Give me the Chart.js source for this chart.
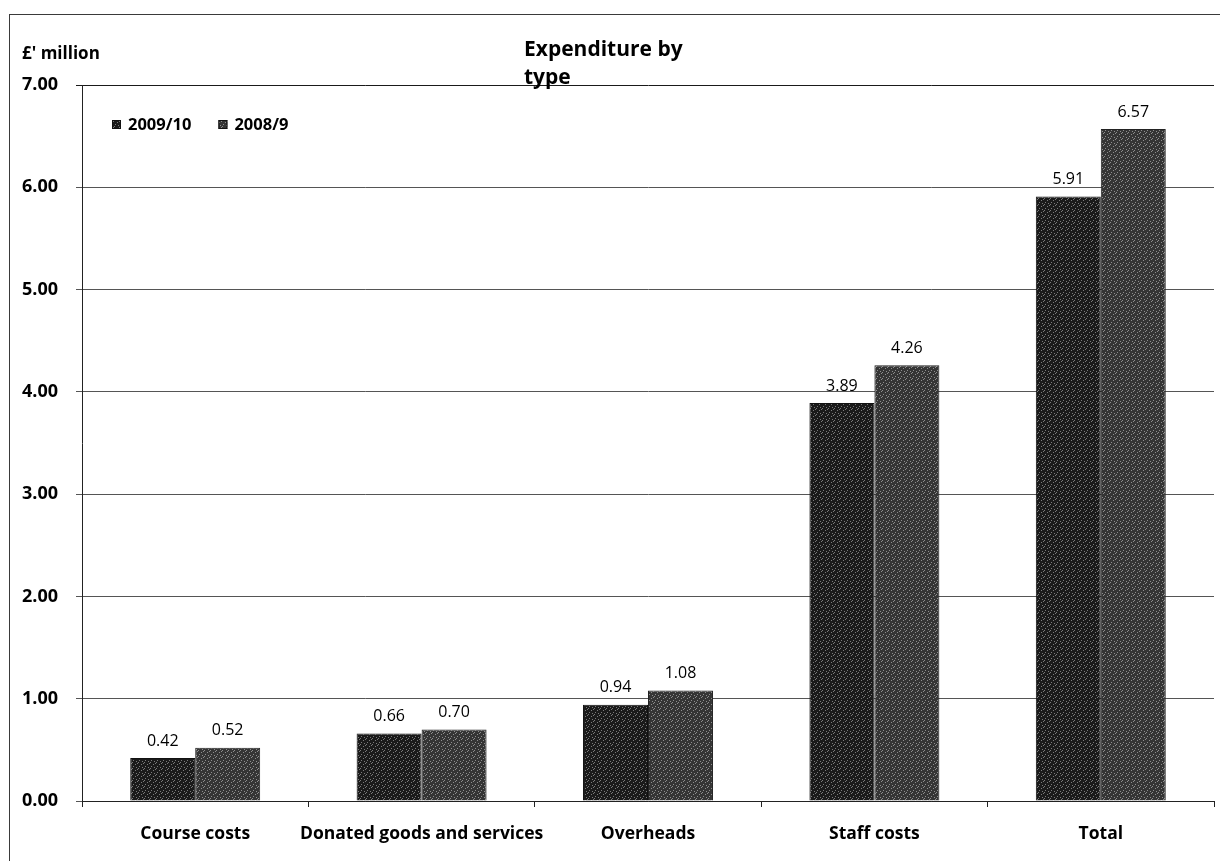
<!DOCTYPE html>
<html>
<head>
<meta charset="utf-8">
<title>Expenditure by type</title>
<script src="https://cdn.jsdelivr.net/npm/chart.js@4.4.1/dist/chart.umd.min.js"></script>
<style>
  html, body { margin: 0; padding: 0; background: #ffffff; }
  #wrap { position: relative; width: 1220px; height: 861px; }
  #frame { position: absolute; left: 9px; top: 14px; right: 0; bottom: 0;
           border-left: 1px solid #3a3a3a; border-top: 1px solid #3a3a3a; pointer-events: none; }
  canvas { position: absolute; left: 0; top: 0; }
</style>
</head>
<body>
<div id="wrap">
  <canvas id="chart" width="1220" height="861"></canvas>
  <div id="frame"></div>
</div>
<script>
// Expenditure categories and values (£ million)
const categories = ['Course costs', 'Donated goods and services', 'Overheads', 'Staff costs', 'Total'];
const spend2009_10 = [0.42, 0.66, 0.94, 3.89, 5.91];
const spend2008_9 = [0.52, 0.70, 1.08, 4.26, 6.57];
const seriesNames = ['2009/10', '2008/9'];
const yTicks = [0, 1, 2, 3, 4, 5, 6, 7];

const FONT = '"Open Sans", "DejaVu Sans", sans-serif';

// Stippled fill: dark base with a scatter of light dots
function stipple(base, dot) {
  const c = document.createElement('canvas');
  c.width = 6; c.height = 6;
  const g = c.getContext('2d');
  g.fillStyle = base;
  g.fillRect(0, 0, 6, 6);
  g.fillStyle = dot;
  [[0, 0], [3, 2], [1, 4], [4, 5], [5, 1]].forEach(([x, y]) => g.fillRect(x, y, 1, 1));
  return g.createPattern(c, 'repeat');
}

const ctx = document.getElementById('chart').getContext('2d');
const fill1 = stipple('#1a1a1a', '#7a7a7a');
const fill2 = stipple('#353535', '#8e8e8e');

// Two-line heading and unit label
const headings = {
  id: 'headings',
  afterDraw(chart) {
    const c = chart.ctx;
    c.save();
    c.fillStyle = '#000';
    c.textAlign = 'left';
    c.textBaseline = 'alphabetic';
    c.font = 'bold 21px ' + FONT;
    c.fillText('Expenditure by', 524, 56);
    c.fillText('type', 524, 84);
    c.font = 'bold 17px ' + FONT;
    c.fillText('£\' million', 22, 59);
    c.restore();
  }
};

// Series key in the upper-left corner of the plot
const seriesKey = {
  id: 'seriesKey',
  afterDraw(chart) {
    const c = chart.ctx;
    const area = chart.chartArea;
    const y = area.top + 40;
    let x = area.left + 30;
    c.save();
    c.font = 'bold 16.5px ' + FONT;
    c.textAlign = 'left';
    c.textBaseline = 'middle';
    chart.data.datasets.forEach((ds) => {
      c.fillStyle = ds.backgroundColor;
      c.fillRect(x, y - 5, 9, 9);
      c.strokeStyle = '#111';
      c.lineWidth = 1;
      c.strokeRect(x + 0.5, y - 4.5, 8, 8);
      c.fillStyle = '#000';
      c.fillText(ds.label, x + 16, y);
      x += 16 + c.measureText(ds.label).width + 27;
    });
    c.restore();
  }
};

// Value labels above each bar
const valueLabels = {
  id: 'valueLabels',
  afterDatasetsDraw(chart) {
    const c = chart.ctx;
    c.save();
    c.fillStyle = '#000';
    c.font = '16px ' + FONT;
    c.textAlign = 'center';
    c.textBaseline = 'bottom';
    chart.data.datasets.forEach((ds, i) => {
      chart.getDatasetMeta(i).data.forEach((bar, j) => {
        c.fillText(ds.data[j].toFixed(2), bar.x, bar.y - 9);
      });
    });
    c.restore();
  }
};

new Chart(ctx, {
  type: 'bar',
  data: {
    labels: categories,
    datasets: [
      { label: seriesNames[0], data: spend2009_10, backgroundColor: fill1, borderColor: '#111', borderWidth: 1 },
      { label: seriesNames[1], data: spend2008_9, backgroundColor: fill2, borderColor: '#222', borderWidth: 1 }
    ]
  },
  options: {
    responsive: false,
    animation: false,
    devicePixelRatio: 1,
    layout: { padding: { left: 22, right: 6, top: 85, bottom: 0 } },
    datasets: { bar: { categoryPercentage: 0.574, barPercentage: 1.0 } },
    plugins: {
      title: { display: false },
      tooltip: { enabled: false },
      legend: { display: false }
    },
    scales: {
      x: {
        grid: { drawOnChartArea: false, drawTicks: true, tickLength: 6, color: '#222', offset: true },
        border: { color: '#222', width: 1 },
        ticks: {
          color: '#000',
          padding: 17,
          autoSkip: false,
          maxRotation: 0,
          font: { family: FONT, size: 17.5, weight: 'bold' }
        },
        afterFit(scale) { scale.height = 60; }
      },
      y: {
        min: 0,
        max: 7,
        afterBuildTicks(scale) { scale.ticks = yTicks.map(v => ({ value: v })); },
        grid: {
          color: (c) => c.tick && c.tick.value === 7 ? '#1a1a1a' : '#555',
          tickLength: 6,
          lineWidth: 1
        },
        border: { color: '#222', width: 1 },
        ticks: {
          color: '#000',
          crossAlign: 'far',
          padding: 8,
          font: { family: FONT, size: 18, weight: 'bold' },
          callback: (v) => Number(v).toFixed(2)
        },
        afterFit(scale) { scale.width = 60; }
      }
    }
  },
  plugins: [headings, seriesKey, valueLabels]
});
</script>
</body>
</html>
